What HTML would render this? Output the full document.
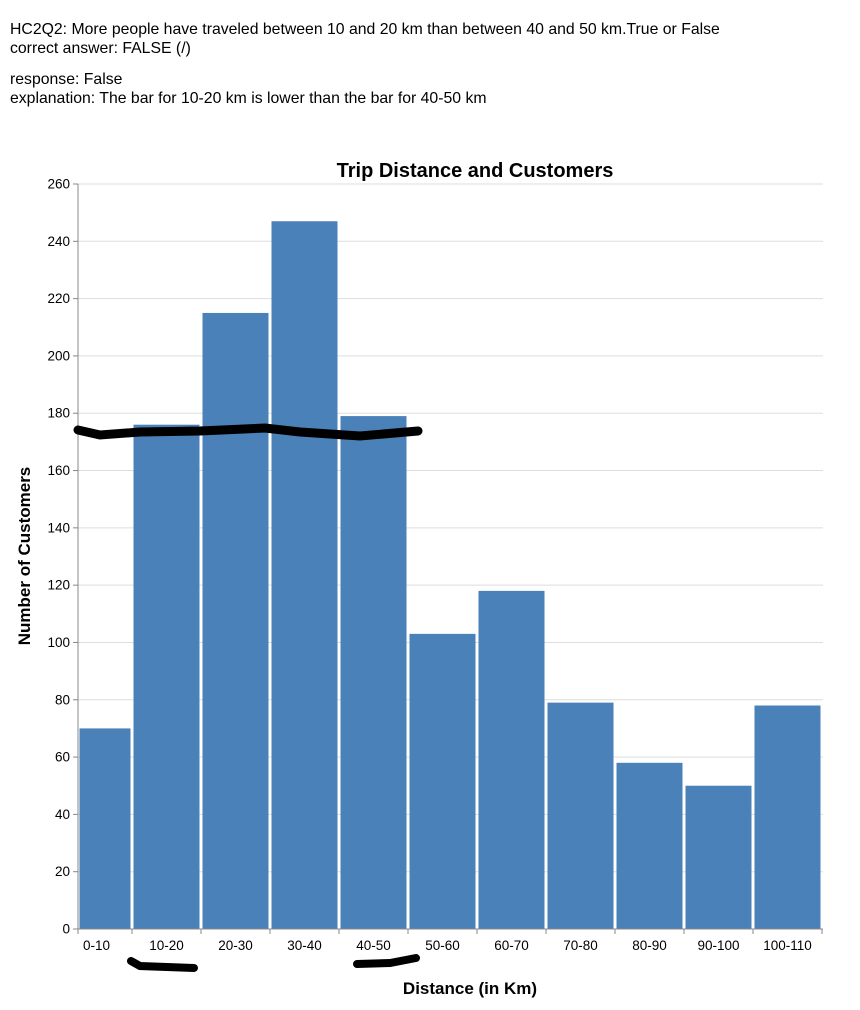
<!DOCTYPE html>
<html><head><meta charset="utf-8"><style>
body{margin:0;background:#fff;font-family:"Liberation Sans",sans-serif;}
.hdr{position:absolute;left:10px;font-size:15.8px;color:#000;line-height:19px;}
</style></head><body>
<div class="hdr" style="top:20px">HC2Q2: More people have traveled between 10 and 20 km than between 40 and 50 km.True or False<br>correct answer: FALSE (/)</div>
<div class="hdr" style="top:70px">response: False<br>explanation: The bar for 10-20 km is lower than the bar for 40-50 km</div>
<svg id="chart" width="860" height="1010" style="position:absolute;left:0;top:0"></svg>
<script>
const categories=["0-10","10-20","20-30","30-40","40-50","50-60","60-70","70-80","80-90","90-100","100-110"];
const binStarts=[0,10,20,30,40,50,60,70,80,90,100];
const values=[70,176,215,247,179,103,118,79,58,50,78];
const yTicks=[0,20,40,60,80,100,120,140,160,180,200,220,240,260];
const NS="http://www.w3.org/2000/svg";
const svg=document.getElementById('chart');
const L=78,R=823,T=184,B=929;
const xr=v=>132+(v-10)*6.9;
const x=v=>Math.max(L,xr(v));
const y=v=>B-(v/260)*(B-T);
function mk(t,a,p){const e=document.createElementNS(NS,t);for(const k in a)e.setAttribute(k,a[k]);(p||svg).appendChild(e);return e;}
yTicks.forEach(t=>{
 const g=mk('line',{x1:L,x2:R,y1:y(t),y2:y(t),stroke:'#ddd'});
 
 
 mk('line',{x1:L-5,x2:L,y1:y(t),y2:y(t),stroke:'#888'});
 const tx=mk('text',{x:L-8,y:y(t)+4.5,'text-anchor':'end','font-size':13.5,fill:'#000'});
 tx.textContent=t;
 
 
});
values.forEach((v,i)=>{
 const x0=x(binStarts[i])+1,x1=x(binStarts[i]+10)-1;
 const r=mk('rect',{x:x0+0.5,y:y(v),width:x1-x0-1,height:B-y(v),fill:'#4a81b9'});
 
 
 mk('line',{x1:x(binStarts[i]+10),x2:x(binStarts[i]+10),y1:B,y2:B+5,stroke:'#888'});
 const lb=mk('text',{x:xr(binStarts[i]+5)+(i==0?-1:0),y:B+21,'text-anchor':'middle','font-size':13.5,fill:'#000'});
 lb.textContent=categories[i];
 
 
});
mk('line',{x1:L,x2:L,y1:T,y2:B,stroke:'#888'});
mk('line',{x1:L,x2:R,y1:B,y2:B,stroke:'#888'});
mk('line',{x1:L,x2:L,y1:B,y2:B+5,stroke:'#888'});
const tt=mk('text',{x:475,y:177,'text-anchor':'middle','font-size':20,'font-weight':'bold'});tt.textContent='Trip Distance and Customers';

const xt=mk('text',{x:470,y:994,'text-anchor':'middle','font-size':17,'font-weight':'bold'});xt.textContent='Distance (in Km)';

const yt=mk('text',{x:0,y:0,'text-anchor':'middle','font-size':17,'font-weight':'bold',transform:'translate(30,556) rotate(-90)'});yt.textContent='Number of Customers';

const s1=mk('path',{d:'M78,430 L100,435 L140,432 L200,431 L265,428 L300,432 L360,436 L418,431',stroke:'#000','stroke-width':9,fill:'none','stroke-linecap':'round'});

const s2=mk('path',{d:'M131,961 L140,966 L194,968',stroke:'#000','stroke-width':8,fill:'none','stroke-linecap':'round'});

const s3=mk('path',{d:'M357,964 L390,963 L416,958',stroke:'#000','stroke-width':8,fill:'none','stroke-linecap':'round'});

</script>
</body></html>
